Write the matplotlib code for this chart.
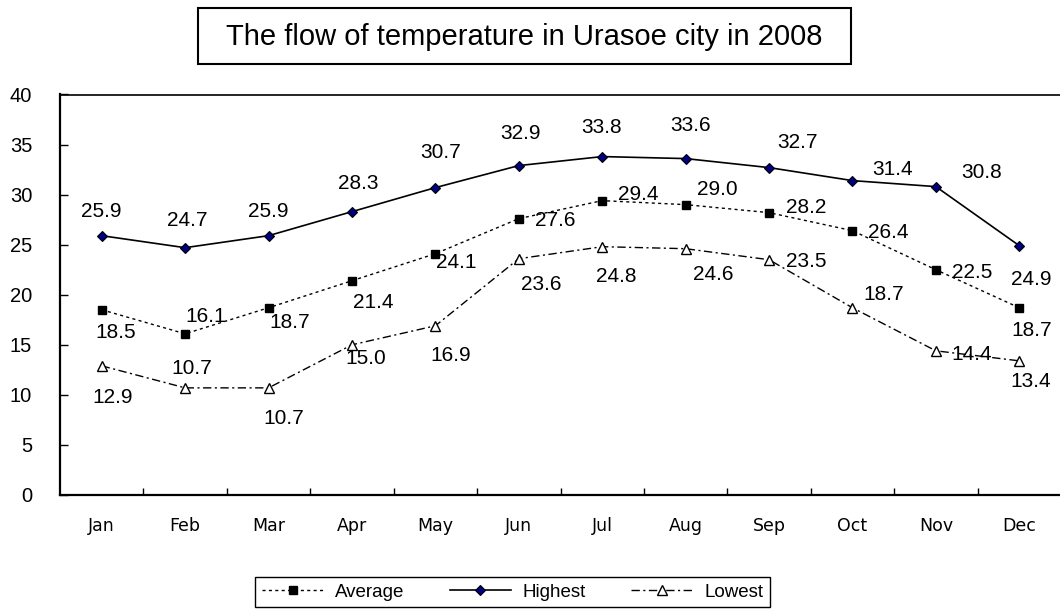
import matplotlib
matplotlib.use("Agg")
import matplotlib.pyplot as plt
from matplotlib.patches import Rectangle

# ---- data ----
months = ["Jan", "Feb", "Mar", "Apr", "May", "Jun",
          "Jul", "Aug", "Sep", "Oct", "Nov", "Dec"]
average = [18.5, 16.1, 18.7, 21.4, 24.1, 27.6, 29.4, 29.0, 28.2, 26.4, 22.5, 18.7]
highest = [25.9, 24.7, 25.9, 28.3, 30.7, 32.9, 33.8, 33.6, 32.7, 31.4, 30.8, 24.9]
lowest = [12.9, 10.7, 10.7, 15.0, 16.9, 23.6, 24.8, 24.6, 23.5, 18.7, 14.4, 13.4]
yticks = [0, 5, 10, 15, 20, 25, 30, 35, 40]
title = "The flow of temperature in Urasoe city in 2008"

# label offsets in pixels (dx, dy up) -- styling only
off_avg = [(14, -23), (21, 17), (21, -15), (21, -22), (21, -9), (36, -2),
           (36, 6), (32, 15), (37, 5), (36, -2), (36, -3), (12, -23)]
off_high = [(0, 24), (2, 27), (0, 24), (6, 28), (5, 35), (2, 32),
            (-1, 29), (5, 33), (28, 25), (40, 11), (46, 14), (12, -34)]
off_low = [(11, -32), (7, 19), (15, -31), (14, -14), (15, -30), (22, -26),
           (14, -30), (28, -26), (37, -2), (31, 13), (36, -4), (11, -21)]

plt.rcParams['font.family'] = ['Liberation Sans', 'DejaVu Sans']

W, H = 1060, 610
fig = plt.figure(figsize=(W / 100, H / 100), dpi=100)
ax = fig.add_axes([60 / W, (H - 495) / H, 1001 / W, 400.5 / H])

x = list(range(len(months)))
l_avg, = ax.plot(x, average, color='black', lw=1.0, linestyle=(0, (2.2, 2.4)),
                 marker='s', ms=6, mfc='black', mec='black', label='Average')
l_high, = ax.plot(x, highest, color='black', lw=1.2, linestyle='-',
                  marker='D', ms=5.5, mfc='#000080', mec='black', mew=0.8,
                  label='Highest')
l_low, = ax.plot(x, lowest, color='black', lw=1.0,
                 linestyle=(0, (6, 2.5, 1.5, 2.5)),
                 marker='^', ms=6.5, mfc='white', mec='black', mew=1.0,
                 label='Lowest')

for vals, offs in ((average, off_avg), (highest, off_high), (lowest, off_low)):
    for i, (v, o) in enumerate(zip(vals, offs)):
        ax.annotate(f"{v:.1f}", (i, v), xytext=o, textcoords='offset pixels',
                    ha='center', va='center', fontsize=15, color='black')

ax.set_xlim(-0.5, len(months) - 0.5)
ax.set_ylim(0, 40)
ax.set_yticks(yticks)
ax.set_yticklabels([str(t) for t in yticks], fontsize=14.5)
ax.tick_params(axis='y', direction='in', length=6, width=1, pad=20)
ax.set_xticks(x)
ax.set_xticklabels(months, fontsize=12.5, family='DejaVu Sans')
ax.tick_params(axis='x', which='major', length=0, pad=16)
ax.set_xticks([i + 0.5 for i in x[:-1]], minor=True)
ax.tick_params(axis='x', which='minor', direction='in', length=5, width=1)

for s in ('left', 'bottom'):
    ax.spines[s].set_linewidth(1.6)
ax.spines['top'].set_linewidth(1.2)
ax.spines['right'].set_visible(False)

# title box
fig.patches.append(Rectangle((198 / W, 1 - 64 / H), 653 / W, 56 / H,
                             transform=fig.transFigure, fill=False,
                             edgecolor='black', lw=1.5))
fig.text(524.5 / W, 1 - 37 / H, title, ha='center', va='center', fontsize=21)

leg = fig.legend(handles=[l_avg, l_high, l_low], loc='upper center',
                 bbox_to_anchor=(512.5 / W, 1 - 577 / H), ncol=3, fontsize=13.5,
                 frameon=True, fancybox=False, framealpha=1, edgecolor='black',
                 handlelength=3.3, handletextpad=0.6, columnspacing=2.4,
                 borderpad=0.35, borderaxespad=0)
leg.get_frame().set_linewidth(1.0)

fig.savefig("out.png", dpi=100)
